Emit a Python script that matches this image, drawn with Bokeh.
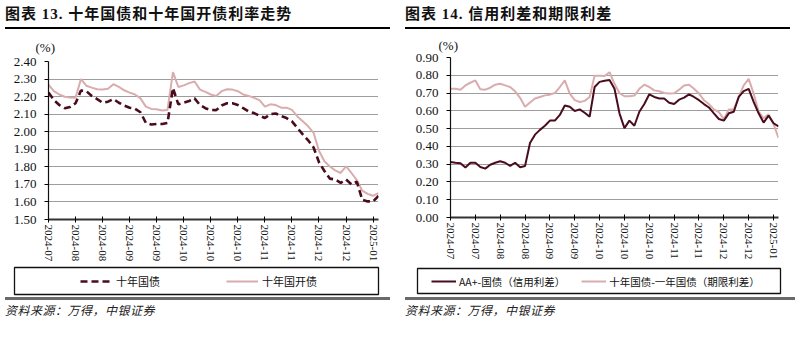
from bokeh.plotting import figure
from bokeh.models import (Range1d, FixedTicker, Legend, LegendItem, Div,
                          NumeralTickFormatter, AllLabels)
from bokeh.layouts import row, column
from bokeh.embed import file_html
from bokeh.resources import INLINE

# ---------------- data: chart 13 ----------------
gov10 = [2.223, 2.180, 2.152, 2.134, 2.141, 2.162, 2.235, 2.231, 2.204, 2.186,
         2.165, 2.171, 2.186, 2.165, 2.149, 2.137, 2.130, 2.111, 2.050, 2.041,
         2.044, 2.044, 2.050, 2.249, 2.156, 2.165, 2.175, 2.190, 2.152, 2.134,
         2.124, 2.123, 2.149, 2.162, 2.162, 2.152, 2.134, 2.115, 2.106, 2.091,
         2.078, 2.100, 2.104, 2.089, 2.078, 2.059, 2.022, 1.985, 1.951, 1.910,
         1.826, 1.776, 1.733, 1.728, 1.709, 1.728, 1.700, 1.715, 1.612, 1.603,
         1.603, 1.635]
cdb10 = [2.268, 2.231, 2.212, 2.199, 2.195, 2.193, 2.300, 2.262, 2.251, 2.242,
         2.240, 2.245, 2.271, 2.255, 2.236, 2.223, 2.212, 2.190, 2.143, 2.130,
         2.128, 2.121, 2.124, 2.339, 2.255, 2.264, 2.277, 2.286, 2.240, 2.227,
         2.212, 2.203, 2.231, 2.242, 2.240, 2.231, 2.212, 2.204, 2.193, 2.180,
         2.143, 2.156, 2.152, 2.137, 2.137, 2.124, 2.087, 2.059, 2.031, 1.994,
         1.892, 1.832, 1.802, 1.780, 1.765, 1.802, 1.765, 1.724, 1.664, 1.646,
         1.635, 1.650]
left_tick_pos = [0, 5, 10, 15, 20, 25, 30, 35, 40, 45, 50, 55, 60]
left_tick_labels = ["2024-07", "2024-08", "2024-08", "2024-09", "2024-09", "2024-10",
                    "2024-10", "2024-10", "2024-11", "2024-11", "2024-12", "2024-12",
                    "2025-01"]
left_y_ticks = [1.5, 1.6, 1.7, 1.8, 1.9, 2.0, 2.1, 2.2, 2.3, 2.4]

# ---------------- data: chart 14 ----------------
credit = [0.312, 0.308, 0.305, 0.281, 0.308, 0.308, 0.284, 0.275, 0.297, 0.308,
          0.316, 0.308, 0.290, 0.308, 0.283, 0.290, 0.419, 0.466, 0.493, 0.516,
          0.545, 0.545, 0.577, 0.630, 0.623, 0.599, 0.608, 0.589, 0.567, 0.734,
          0.763, 0.769, 0.774, 0.724, 0.586, 0.503, 0.545, 0.516, 0.595, 0.638,
          0.693, 0.678, 0.669, 0.669, 0.645, 0.638, 0.663, 0.674, 0.693, 0.678,
          0.660, 0.638, 0.619, 0.586, 0.554, 0.545, 0.586, 0.595, 0.678, 0.711,
          0.724, 0.650, 0.586, 0.534, 0.573, 0.530, 0.512]
term = [0.724, 0.724, 0.719, 0.743, 0.758, 0.771, 0.721, 0.719, 0.730, 0.747,
        0.752, 0.743, 0.734, 0.710, 0.673, 0.623, 0.647, 0.669, 0.678, 0.687,
        0.691, 0.700, 0.734, 0.771, 0.697, 0.660, 0.650, 0.656, 0.678, 0.798,
        0.798, 0.796, 0.817, 0.752, 0.700, 0.682, 0.682, 0.686, 0.724, 0.747,
        0.734, 0.715, 0.710, 0.700, 0.697, 0.699, 0.719, 0.743, 0.747, 0.724,
        0.697, 0.660, 0.638, 0.608, 0.593, 0.553, 0.608, 0.608, 0.678, 0.743,
        0.780, 0.697, 0.595, 0.558, 0.580, 0.527, 0.447]
right_tick_pos = [0, 5, 10, 15, 20, 25, 30, 35, 40, 45, 50, 55, 60, 65]
right_tick_labels = ["2024-07", "2024-07", "2024-08", "2024-08", "2024-09", "2024-09",
                     "2024-10", "2024-10", "2024-10", "2024-11", "2024-11", "2024-12",
                     "2024-12", "2025-01"]
right_y_ticks = [0.0, 0.1, 0.2, 0.3, 0.4, 0.5, 0.6, 0.7, 0.8, 0.9]

DARK = "#4a0c1c"
PINK = "#d9acae"
SERIF = "Liberation Serif"
CJK = "Noto Sans CJK SC"


def title_div(text):
    html = ('<div style="margin-left:5px;width:385px;height:29px;box-sizing:border-box;'
            'border-bottom:2px solid #000;padding-top:1px;line-height:26px;'
            "font-family:'Liberation Serif','Noto Sans CJK SC';font-weight:bold;"
            'font-size:15px;letter-spacing:1px;color:#111;white-space:nowrap;">'
            + text + '</div>')
    return Div(text=html, width=400, height=30, margin=0)


def source_div(width):
    html = ('<div style="margin-left:5px;width:%dpx;height:40px;box-sizing:border-box;'
            'border-top:3px solid #6a6a6a;padding-top:2px;line-height:16px;'
            "font-family:'Noto Sans CJK SC';font-style:italic;font-size:12px;"
            'letter-spacing:0.5px;color:#222;white-space:nowrap;">'
            '资料来源：万得，中银证券</div>') % width
    return Div(text=html, width=400, height=44, margin=0)


def make_fig(height, x_end, y0, y1, yticks, tpos, tlabels, mb_left, mb_top, mb_bottom,
             pct_offset, pct_standoff):
    p = figure(width=400, height=height, x_range=Range1d(0, x_end), y_range=Range1d(y0, y1),
               title="(%)", output_backend="svg", toolbar_location=None,
               min_border_left=mb_left, min_border_right=22,
               min_border_top=mb_top, min_border_bottom=mb_bottom, frame_align=False)
    p.title.align = "left"
    p.title.offset = pct_offset
    p.title.standoff = pct_standoff
    p.title.text_font = SERIF
    p.title.text_font_size = "13px"
    p.title.text_font_style = "normal"
    p.title.text_color = "#111"
    p.outline_line_color = None
    p.background_fill_color = "white"
    p.border_fill_color = "white"
    p.xgrid.visible = False
    p.ygrid.ticker = FixedTicker(ticks=yticks)
    p.ygrid.grid_line_color = "#3a3a3a"
    p.ygrid.grid_line_dash = "1 1"
    p.ygrid.grid_line_width = 1.2

    p.yaxis.ticker = FixedTicker(ticks=yticks)
    p.yaxis.formatter = NumeralTickFormatter(format="0.00")
    p.yaxis.axis_line_color = "#111"
    p.yaxis.axis_line_width = 1.2
    p.yaxis.major_tick_out = 4
    p.yaxis.major_tick_in = 0
    p.yaxis.minor_tick_line_color = None
    p.yaxis.major_label_standoff = 8
    p.yaxis.major_label_text_font = SERIF
    p.yaxis.major_label_text_font_size = "13px"
    p.yaxis.major_label_text_color = "#111"

    p.xaxis.ticker = FixedTicker(ticks=tpos)
    p.xaxis.major_label_overrides = {t: l for t, l in zip(tpos, tlabels)}
    p.xaxis.major_label_policy = AllLabels()
    p.xaxis.major_label_orientation = "vertical"
    p.xaxis.axis_line_color = "#333"
    p.xaxis.axis_line_width = 1.8
    p.xaxis.major_tick_out = 3
    p.xaxis.major_tick_in = 3
    p.xaxis.minor_tick_line_color = None
    p.xaxis.major_label_standoff = 2
    p.xaxis.major_label_text_font = SERIF
    p.xaxis.major_label_text_font_size = "11px"
    p.xaxis.major_label_text_color = "#111"
    return p


def legend_fig(left, right, top, bottom, height):
    q = figure(width=400, height=height, x_range=Range1d(0, 1), y_range=Range1d(0, 1),
               output_backend="svg", toolbar_location=None,
               x_axis_location=None, y_axis_location=None,
               min_border_left=left, min_border_right=right,
               min_border_top=top, min_border_bottom=bottom, frame_align=False)
    q.xgrid.visible = False
    q.ygrid.visible = False
    q.outline_line_color = "#111"
    q.outline_line_width = 1.3
    q.background_fill_color = "white"
    q.border_fill_color = "white"
    return q


# ---------------- chart 13 ----------------
xl = list(range(len(gov10)))
p1 = make_fig(234, 61, 1.5, 2.4, left_y_ticks, left_tick_pos, left_tick_labels,
              48, 31, 43, -13, 14)
p1.line(xl, cdb10, line_color=PINK, line_width=2)
p1.line(xl, gov10, line_color=DARK, line_width=2.6, line_dash="7 4")

q1 = legend_fig(14, 22, 3, 3, 33)
k_gov = q1.line([-1, -2], [-1, -1], line_color=DARK, line_width=2.6, line_dash="7 4")
k_cdb = q1.line([-1, -2], [-1, -1], line_color=PINK, line_width=2)
leg1 = Legend(items=[LegendItem(label="十年国债", renderers=[k_gov]),
                     LegendItem(label="十年国开债", renderers=[k_cdb])],
              location=(61, 0), orientation="horizontal", padding=5, margin=0,
              spacing=66, glyph_width=32, label_standoff=4, label_width=44,
              glyph_height=16, label_height=16,
              label_text_font=CJK, label_text_font_size="11px",
              label_text_color="#111",
              border_line_alpha=0, background_fill_alpha=0)
q1.add_layout(leg1, "center")

# ---------------- chart 14 ----------------
xr = list(range(len(credit)))
p2 = make_fig(232, 66, 0.0, 0.9, right_y_ticks, right_tick_pos, right_tick_labels,
              50, 27, 43, -12, 10)
p2.line(xr, term, line_color=PINK, line_width=2)
p2.line(xr, credit, line_color=DARK, line_width=2)

q2 = legend_fig(17, 20, 6, 4, 35)
k_cred = q2.line([-1, -2], [-1, -1], line_color=DARK, line_width=2)
k_term = q2.line([-1, -2], [-1, -1], line_color=PINK, line_width=2)
leg2 = Legend(items=[LegendItem(label="AA+-国债（信用利差）", renderers=[k_cred]),
                     LegendItem(label="十年国债-一年国债（期限利差）", renderers=[k_term])],
              location=(10, 0), orientation="horizontal", padding=4, margin=0,
              spacing=16, glyph_width=25, label_standoff=3,
              glyph_height=16, label_height=16,
              label_text_font=CJK, label_text_font_size="10.5px",
              label_text_color="#111",
              border_line_alpha=0, background_fill_alpha=0)
q2.add_layout(leg2, "center")

left = column(title_div("图表 13. 十年国债和十年国开债利率走势"), p1, q1, source_div(385), spacing=0)
right = column(title_div("图表 14. 信用利差和期限利差"), p2, q2, source_div(390), spacing=0)
layout = row(left, right, spacing=0)

open("out.html", "w").write(file_html(layout, INLINE))
